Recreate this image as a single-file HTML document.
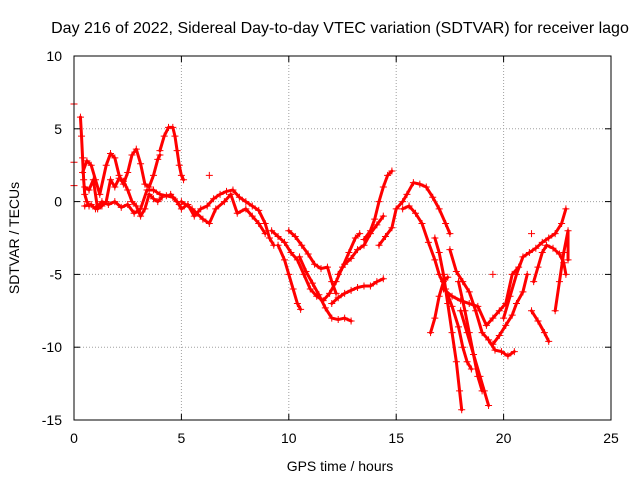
<!DOCTYPE html>
<html><head><meta charset="utf-8"><style>
body{margin:0;background:#fff}
svg{display:block;font-family:"Liberation Sans",sans-serif}
</style></head><body>
<svg id="chart" width="640" height="480" viewBox="0 0 640 480">
<rect width="640" height="480" fill="#fff"/>
<text x="340" y="33" font-size="16" text-anchor="middle">Day 216 of 2022, Sidereal Day-to-day VTEC variation (SDTVAR) for receiver lago</text>
<text x="340" y="471" font-size="14" text-anchor="middle">GPS time / hours</text>
<text x="0" y="0" font-size="14" text-anchor="middle" transform="translate(19,238) rotate(-90)">SDTVAR / TECUs</text>
<g id="grid"></g><g id="marks"></g><g id="axes"></g>
</svg>
<script>
const xTicks=[0,5,10,15,20,25];
const yTicks=[10,5,0,-5,-10,-15];
const tracks=[
[[0.3,5.8],[0.35,4.5],[0.4,3],[0.45,1.5],[0.5,0.5],[0.6,0],[0.7,-0.3]],
[[0.4,2],[0.6,2.8],[0.8,2.5],[1.0,1.5],[1.2,0.5],[1.5,2.5],[1.7,3.3],[1.9,3],[2.1,1.8],[2.3,1.2],[2.5,2],[2.7,3.2],[2.9,3.6],[3.1,2.6],[3.3,1.2],[3.5,1.0],[3.7,1.8],[3.9,2.9],[4.0,3.2]],
[[0.5,1],[0.7,0.8],[0.9,1.5],[1.1,-0.5],[1.3,-0.3],[1.5,0],[1.7,1.5],[1.9,1.0],[2.1,1.6],[2.3,1.4],[2.5,0.8],[2.7,0],[2.9,-0.3],[3.1,-1.0],[3.3,-0.5],[3.5,0.5],[3.7,0.2],[3.9,0],[4.1,0.3]],
[[0.5,-0.3],[0.8,-0.2],[1.0,-0.5],[1.3,0],[1.6,-0.2],[1.9,0],[2.2,-0.4],[2.5,-0.2],[2.8,-0.8],[3.1,-0.5],[3.4,0.8],[3.7,0.8],[4.0,0.5],[4.3,0.4],[4.6,0.3],[4.9,-0.2]],
[[4.0,3.5],[4.2,4.5],[4.4,5.1],[4.6,5.1],[4.7,4.5],[4.8,3.5],[4.9,2.5],[5.0,1.8],[5.1,1.5]],
[[4.5,0.5],[4.8,0],[5.0,-0.5],[5.3,-0.2],[5.6,-1],[5.9,-0.5],[6.2,-0.3],[6.5,0.2],[6.8,0.5],[7.1,0.7],[7.4,0.8],[7.7,0.3],[8.0,0],[8.3,-0.3],[8.6,-0.6],[8.9,-1.5],[9.1,-2.5],[9.3,-3]],
[[5.0,0],[5.5,-0.5],[6.0,-1.2],[6.3,-1.5],[6.6,-0.5],[7.0,0],[7.3,0.5],[7.6,-0.8],[8.0,-0.5],[8.3,-1.0],[8.6,-1.5],[8.9,-2.2]],
[[9.2,-2],[9.5,-2.4],[9.8,-2.8],[10.1,-3.5],[10.4,-4],[10.7,-5],[11.0,-6],[11.3,-6.5],[11.6,-6.8],[11.9,-6.3],[12.2,-5.5],[12.5,-4.5],[12.8,-3.5],[13.1,-2.5],[13.3,-2.2]],
[[9.5,-3],[9.8,-4],[10.0,-5],[10.2,-6],[10.4,-7],[10.55,-7.4]],
[[10.0,-2],[10.3,-2.4],[10.6,-3],[10.9,-3.6],[11.2,-4.3],[11.5,-4.6],[11.8,-4.5],[12.0,-5.5],[12.2,-6.3]],
[[10.5,-3.8],[10.8,-4.8],[11.1,-5.6],[11.4,-6.4],[11.7,-7.3],[12.0,-8],[12.3,-8.1],[12.6,-8.0],[12.9,-8.2]],
[[12.0,-7],[12.3,-6.6],[12.6,-6.3],[12.9,-6.1],[13.2,-5.9],[13.5,-5.8],[13.8,-5.8],[14.1,-5.5],[14.4,-5.3]],
[[12.3,-5.0],[12.6,-4.3],[12.9,-3.9],[13.2,-3.3],[13.5,-3.0],[13.8,-2.2],[14.1,-1.6],[14.4,-1.0]],
[[13.5,-2.6],[13.8,-2.0],[14.0,-1.2],[14.2,0],[14.4,1.0],[14.6,1.8],[14.8,2.1]],
[[14.2,-3],[14.5,-2.4],[14.8,-1.8],[15.0,-0.5],[15.3,0],[15.5,0.5],[15.8,1.3],[16.1,1.2],[16.4,1.0],[16.7,0.3],[17.0,-0.5],[17.3,-1.5],[17.5,-2.2]],
[[15.3,-0.5],[15.6,-0.3],[15.9,-0.8],[16.2,-1.5],[16.5,-2.8],[16.8,-4],[17.0,-5],[17.3,-6],[17.6,-7.2],[17.9,-8.6],[18.1,-10],[18.3,-11],[18.5,-11.5]],
[[16.8,-2.5],[17.0,-3.5],[17.2,-5],[17.4,-7],[17.6,-9],[17.8,-11],[17.95,-13],[18.05,-14.3]],
[[17.5,-3.3],[17.8,-4.8],[18.1,-5.5],[18.4,-6.2],[18.7,-7.5],[19.0,-9],[19.3,-9.5],[19.6,-10.2],[19.9,-10.3],[20.2,-10.6],[20.5,-10.3]],
[[16.6,-9],[16.8,-8],[17.0,-6.5],[17.2,-5.5],[17.4,-5.2]],
[[17.2,-6],[17.6,-6.5],[18.0,-6.8],[18.4,-7],[18.8,-7.2],[19.2,-8.5],[19.5,-8],[19.8,-7.5],[20.1,-7],[20.4,-5],[20.7,-4.5]],
[[18.0,-7.5],[18.3,-9],[18.6,-10.5],[18.9,-12],[19.1,-13],[19.3,-14]],
[[17.9,-5.5],[18.2,-7.5],[18.4,-9],[18.6,-10.5],[18.8,-12],[19.0,-13]],
[[19.5,-9.8],[19.8,-9.2],[20.1,-8.5],[20.4,-7.8],[20.6,-7],[20.9,-6.2],[21.1,-5]],
[[20.0,-8],[20.3,-6.5],[20.6,-5],[20.9,-3.8],[21.2,-3.5],[21.5,-3.2],[21.8,-2.8],[22.1,-2.5],[22.4,-2.2],[22.7,-1.5],[22.9,-0.5]],
[[21.3,-7.5],[21.6,-8.2],[21.9,-9],[22.1,-9.6]],
[[21.4,-5.5],[21.6,-4.5],[21.8,-3.5],[22.0,-3],[22.3,-3.2],[22.6,-3.6],[22.8,-4.2],[22.9,-5]],
[[22.4,-7.5],[22.6,-5.5],[22.8,-3.5],[23.0,-2],[23.0,-4]]
];
const isolated=[[0,6.7],[0,2.7],[0,1.1],[6.3,1.8],[21.3,-2.2],[19.5,-5]];
const X0=74,X1=611,Y0=56,Y1=420;
const sx=v=>X0+(v-0)/25*(X1-X0);
const sy=v=>Y0+(10-v)/25*(Y1-Y0);
const NS="http://www.w3.org/2000/svg";
function mk(tag,attrs,parent){const e=document.createElementNS(NS,tag);for(const k in attrs)e.setAttribute(k,attrs[k]);parent.appendChild(e);return e;}
const grid=document.getElementById('grid'),marks=document.getElementById('marks'),axes=document.getElementById('axes');
xTicks.forEach(t=>{
  const x=sx(t);
  if(t>0&&t<25){const g=mk('line',{x1:x,x2:x,y1:Y0,y2:Y1,stroke:'#a0a0a0','stroke-dasharray':'1,2'},grid);
  
  }
  mk('line',{x1:x,x2:x,y1:Y1,y2:Y1-6,stroke:'#000'},axes);
  mk('line',{x1:x,x2:x,y1:Y0,y2:Y0+6,stroke:'#000'},axes);
  const l=mk('text',{x:x,y:Y1+23,'font-size':14,'text-anchor':'middle'},axes);l.textContent=t;
  
  
});
yTicks.forEach(t=>{
  const y=sy(t);
  if(t>-15&&t<10){const g=mk('line',{x1:X0,x2:X1,y1:y,y2:y,stroke:'#a0a0a0','stroke-dasharray':'1,2'},grid);
  
  }
  mk('line',{x1:X0,x2:X0+6,y1:y,y2:y,stroke:'#000'},axes);
  mk('line',{x1:X1,x2:X1-6,y1:y,y2:y,stroke:'#000'},axes);
  const l=mk('text',{x:X0-12,y:y+5,'font-size':14,'text-anchor':'end'},axes);l.textContent=t;
  
  
});
const fr=mk('rect',{x:X0,y:Y0,width:X1-X0,height:Y1-Y0,fill:'none',stroke:'#000'},axes);


function plus(t,v){
  const x=sx(t),y=sy(v);
  const p=mk('path',{d:`M${x-3.5},${y}H${x+3.5}M${x},${y-3.5}V${y+3.5}`,stroke:'#f00','stroke-width':1},marks);
  
  
}
tracks.forEach((tr,i)=>{
  const pl=mk('polyline',{points:tr.map(p=>sx(p[0])+','+sy(p[1])).join(' '),fill:'none',stroke:'#f00','stroke-width':3,'stroke-linejoin':'round','stroke-linecap':'round'},marks);
  
  
  tr.forEach(p=>plus(p[0],p[1]));
});
isolated.forEach(p=>plus(p[0],p[1]));
</script>
</body></html>
